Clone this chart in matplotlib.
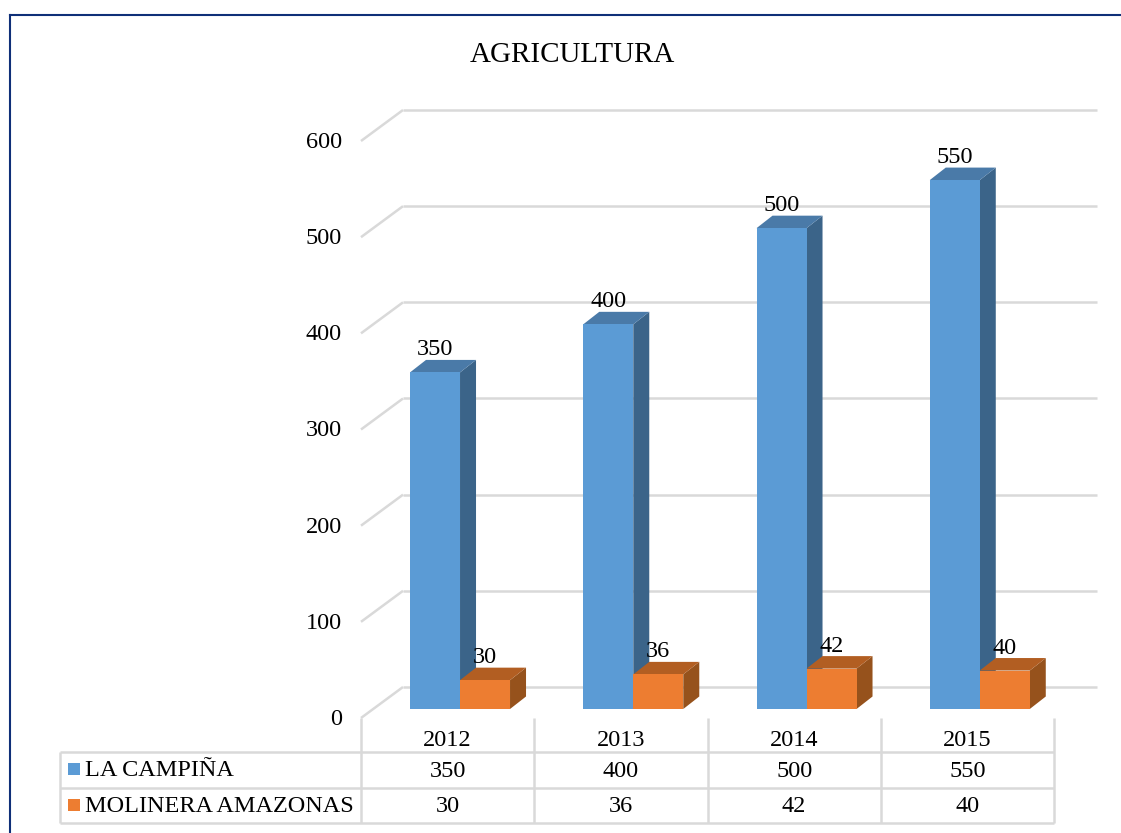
#!/usr/bin/env python3
"""Excel style 3D column chart with a data table, AGRICULTURA."""

import matplotlib
matplotlib.use("Agg")
import matplotlib.pyplot as plt
from matplotlib.lines import Line2D
from matplotlib.patches import Polygon, Rectangle

plt.rcParams["font.family"] = ["Liberation Serif", "DejaVu Serif"]

TITLE = "AGRICULTURA"
YEARS = ["2012", "2013", "2014", "2015"]
SERIES_NAMES = ["LA CAMPIÑA", "MOLINERA AMAZONAS"]
LA_CAMPINA = [350, 400, 500, 550]
MOLINERA = [30, 36, 42, 40]
Y_TICKS = [0, 100, 200, 300, 400, 500, 600]

W, H = 1121, 833
# front plane of the chart in pixels
LEFT, RIGHT, BOTTOM, TOP = 361, 1054, 718, 141
FONT = 17.5
GRID = "#d9d9d9"
FRAME = "#0f2f78"
BLUE = ("#5b9bd5", "#4a7aa8", "#3b6489")
ORANGE = ("#ed7d31", "#b25e22", "#96521c")

fig = plt.figure(figsize=(W / 100, H / 100), dpi=100)
ax = fig.add_axes([LEFT / W, 1 - BOTTOM / H, (RIGHT - LEFT) / W, (BOTTOM - TOP) / H])
ax.set_xlim(-0.5, len(YEARS) - 0.5)
ax.set_ylim(0, 600)
ax.axis("off")

# pixel -> data units
px_x = (len(YEARS)) / (RIGHT - LEFT)
px_y = 600 / (BOTTOM - TOP)
TEXT_NUDGE = 1.5  # px, va=center sits a bit high with this font


def row_y(pixel):
    return (BOTTOM - pixel) * px_y


def col_x(pixel):
    return -0.5 + (pixel - LEFT) * px_x


def seg(xs, ys, lw=1.6, zorder=1):
    ax.plot(xs, ys, color=GRID, lw=lw, clip_on=False, zorder=zorder, solid_capstyle="butt")


def label(x, y, s, ha="center", zorder=5):
    ax.text(x, y - TEXT_NUDGE * px_y, s, ha=ha, va="center", fontsize=FONT,
            clip_on=False, zorder=zorder)


def box(x0, value, colors, zorder):
    """One column: front face, top and side, shifted into the floor depth."""
    w = 50 * px_x
    dx, dy = 16 * px_x, 12.5 * px_y
    y0 = 9 * px_y
    y1 = y0 + value
    side = [(x0 + w, y0), (x0 + w + dx, y0 + dy), (x0 + w + dx, y1 + dy), (x0 + w, y1)]
    top = [(x0, y1), (x0 + dx, y1 + dy), (x0 + w + dx, y1 + dy), (x0 + w, y1)]
    ax.add_patch(Polygon(side, closed=True, fc=colors[2], ec="none", clip_on=False, zorder=zorder))
    ax.add_patch(Polygon(top, closed=True, fc=colors[1], ec="none", clip_on=False, zorder=zorder))
    ax.add_patch(Rectangle((x0, y0), w, value, fc=colors[0], ec="none", clip_on=False, zorder=zorder))
    label(x0 + w / 2, y1 + 24 * px_y, str(value), zorder=10)


# grid on the side wall and back wall
for tick in Y_TICKS:
    seg([-0.5, -0.5 + 42 * px_x], [tick, tick + 31 * px_y], lw=1.8)
    seg([-0.5 + 42 * px_x, -0.5 + (1097 - LEFT) * px_x], [tick + 31 * px_y] * 2, lw=1.8)
    label(col_x(342), tick, str(tick), ha="right")

for i, year in enumerate(YEARS):
    box(i - 37.6 * px_x, LA_CAMPINA[i], BLUE, 3)
    box(i + 12.4 * px_x, MOLINERA[i], ORANGE, 4)
    label(i, row_y(739), year)
    label(i, row_y(770), str(LA_CAMPINA[i]))
    label(i, row_y(805), str(MOLINERA[i]))

# data table lines
for p in (752, 788, 823):
    seg([col_x(60), col_x(RIGHT)], [row_y(p)] * 2, lw=1.8)
seg([col_x(60)] * 2, [row_y(752), row_y(823)], lw=1.8)
for i in range(len(YEARS) + 1):
    seg([i - 0.5] * 2, [row_y(BOTTOM), row_y(823)], lw=1.8)

# legend keys inside the table
for name, color, y_mid in zip(SERIES_NAMES, (BLUE[0], ORANGE[0]), (769, 805)):
    ax.add_patch(Rectangle((col_x(68), row_y(y_mid + 6)), 12 * px_x, 12 * px_y,
                           fc=color, ec="none", clip_on=False))
    label(col_x(85), row_y(y_mid), name, ha="left")

fig.text(572 / W, 1 - 54.5 / H, TITLE, ha="center", va="center", fontsize=20.9)

# outer frame, only top and left are visible in the crop
fig.add_artist(Line2D([9.5 / W, 9.5 / W], [0, 1 - 14.5 / H], color=FRAME, lw=1.5))
fig.add_artist(Line2D([9.5 / W, 1], [1 - 14.5 / H] * 2, color=FRAME, lw=1.5))

fig.savefig("out.png", dpi=100)
